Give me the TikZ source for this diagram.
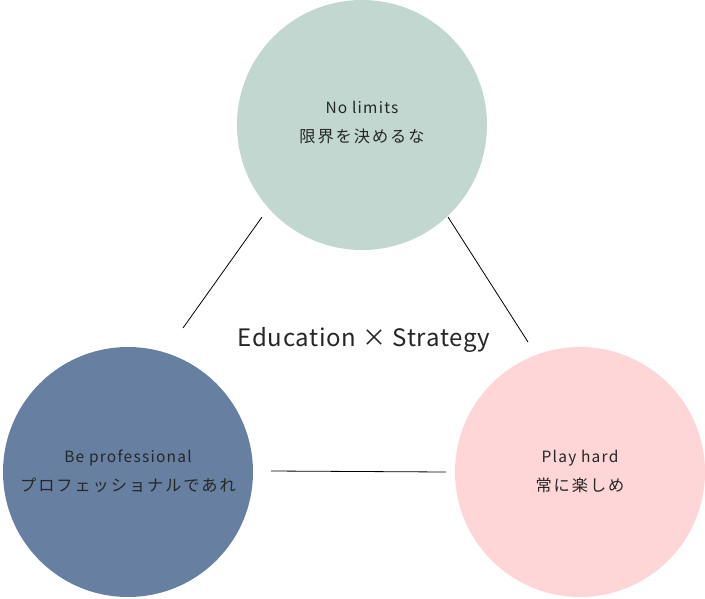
\documentclass[tikz,border=0pt]{standalone}
\usepackage{fontspec}
\setmainfont{Noto Sans CJK JP}[LetterSpace=8]
\newfontfamily\jpfont{Noto Sans CJK JP}[LetterSpace=12]
\newfontfamily\titlefont{Noto Sans CJK JP}[LetterSpace=3]
\definecolor{cgreen}{HTML}{C1D7CF}
\definecolor{cblue}{HTML}{6780A1}
\definecolor{cpink}{HTML}{FED6D8}
\definecolor{ctext}{HTML}{262626}
\begin{document}
\begin{tikzpicture}[x=1pt,y=-1pt,
  bubble/.style={circle,minimum size=250pt,inner sep=0pt,draw=none},
  label/.style={text=ctext,align=center,font=\fontsize{15.5}{29.5}\selectfont},
  link/.style={draw=black,line width=0.8pt}]
\useasboundingbox (0,0) rectangle (705,598);
\node[bubble,fill=cgreen] (top) at (362,125) {};
\node[bubble,fill=cblue] (left) at (128,472) {};
\node[bubble,fill=cpink] (right) at (580,472) {};
\node[label] (ttop) at (362,122.5) {No limits\\{\jpfont\fontsize{16.2}{20}\selectfont 限界を決めるな}};
\node[label] (tleft) at (128,471.5) {Be professional\\{\jpfont\fontsize{16.2}{20}\selectfont プロフェッショナルであれ}};
\node[label] (tright) at (580,471.5) {Play hard\\{\jpfont\fontsize{16.2}{20}\selectfont 常に楽しめ}};
\node[text=ctext,font=\titlefont\fontsize{24}{28}\selectfont] (title) at (364,340) {Education × Strategy};
\coordinate (a1) at (262,217);
\coordinate (a2) at (183,328);
\coordinate (b1) at (448,217);
\coordinate (b2) at (528,342);
\coordinate (c1) at (271,471);
\coordinate (c2) at (446,472);
\draw[link] (a1) -- (a2);
\draw[link] (b1) -- (b2);
\draw[link] (c1) -- (c2);
\end{tikzpicture}
\end{document}
